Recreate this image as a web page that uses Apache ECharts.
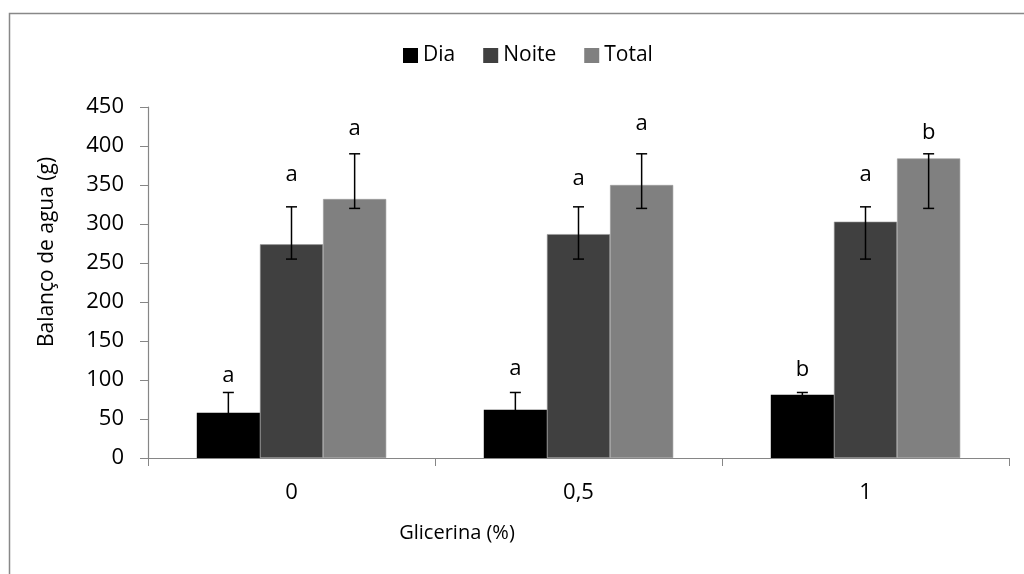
<!DOCTYPE html>
<html>
<head>
<meta charset="utf-8">
<script src="https://cdn.jsdelivr.net/npm/echarts@6/dist/echarts.min.js"></script>
<style>
  html, body { margin: 0; padding: 0; background: #ffffff; }
  #chart { width: 1024px; height: 574px; }
</style>
</head>
<body>
<div id="chart"></div>
<script>
// categorias do eixo X (glicerina %)
const categories = ['0', '0,5', '1'];
const seriesNames = ['Dia', 'Noite', 'Total'];
const colors = ['#000000', '#404040', '#808080'];

// médias
const dia = [58, 62, 81];
const noite = [274, 287, 303];
const total = [332, 350, 384];

// extremos das barras de erro
const diaErrLow = [32, 40, 79];
const diaErrHigh = [84, 84, 84];
const noiteErrLow = [255, 255, 255];
const noiteErrHigh = [322, 322, 322];
const totalErrLow = [320, 320, 320];
const totalErrHigh = [390, 390, 390];

// letras de significância e a altura (valor) onde ficam
const diaLetters = ['a', 'a', 'b'];
const noiteLetters = ['a', 'a', 'a'];
const totalLetters = ['a', 'a', 'b'];
const diaLetterY = [106, 115, 113];
const noiteLetterY = [363, 358, 363];
const totalLetterY = [422, 429, 417];

const FONT = 'Open Sans';
const groupFrac = 0.66;

function errorSeries(pos, lows, highs, letterY, letters) {
  return {
    type: 'custom',
    z: 10,
    silent: true,
    encode: { x: 0, y: [1, 2, 3] },
    data: categories.map((c, i) => [i, lows[i], highs[i], letterY[i]]),
    renderItem: function (params, api) {
      const i = api.value(0);
      const bw = api.size([1, 0])[0] * groupFrac / 3;
      const dx = (pos - 1) * bw;
      const hi = api.coord([i, api.value(2)]);
      const lo = api.coord([i, api.value(1)]);
      const lab = api.coord([i, api.value(3)]);
      const x = hi[0] + dx;
      const half = 5.5;
      const st = { stroke: '#000', lineWidth: 1.5 };
      return {
        type: 'group',
        children: [
          { type: 'line', shape: { x1: x, y1: hi[1], x2: x, y2: lo[1] }, style: st },
          { type: 'line', shape: { x1: x - half, y1: hi[1], x2: x + half, y2: hi[1] }, style: st },
          { type: 'line', shape: { x1: x - half, y1: lo[1], x2: x + half, y2: lo[1] }, style: st },
          {
            type: 'text',
            style: {
              x: x, y: lab[1],
              text: letters[params.dataIndex],
              fill: '#000',
              fontFamily: FONT,
              fontSize: 22,
              align: 'center',
              verticalAlign: 'middle'
            }
          }
        ]
      };
    }
  };
}

const chart = echarts.init(document.getElementById('chart'), null, { renderer: 'canvas' });

const barValues = [dia, noite, total];

const option = {
  backgroundColor: '#ffffff',
  animation: false,
  textStyle: { fontFamily: FONT, color: '#000' },
  legend: {
    data: seriesNames,
    left: 398,
    top: 40,
    itemWidth: 15,
    itemHeight: 15,
    itemGap: 28,
    icon: 'rect',
    itemStyle: { borderWidth: 0 },
    textStyle: { fontFamily: FONT, fontSize: 21, color: '#000' }
  },
  grid: { left: 148, right: 15, top: 107, bottom: 116, containLabel: false },
  xAxis: {
    type: 'category',
    data: categories,
    axisLine: { lineStyle: { color: '#868686', width: 1.2 } },
    axisTick: { show: true, length: 8, lineStyle: { color: '#868686' } },
    axisLabel: { fontFamily: FONT, fontSize: 22, color: '#000', margin: 24 }
  },
  yAxis: {
    type: 'value',
    min: 0,
    max: 450,
    interval: 50,
    splitLine: { show: false },
    axisLine: { show: true, lineStyle: { color: '#868686', width: 1.2 } },
    axisTick: { show: true, length: 8, lineStyle: { color: '#868686' } },
    axisLabel: { fontFamily: FONT, fontSize: 22, color: '#000', margin: 24 }
  },
  graphic: [
    {
      type: 'rect',
      silent: true,
      shape: { x: 9.5, y: 13.5, width: 1200, height: 800 },
      style: { fill: 'none', stroke: '#888888', lineWidth: 1.5 }
    },
    {
      type: 'text',
      x: 47, y: 252,
      rotation: Math.PI / 2,
      style: {
        text: 'Balanço de agua (g)',
        fontFamily: FONT,
        fontSize: 21,
        fill: '#000',
        align: 'center',
        verticalAlign: 'middle'
      }
    },
    {
      type: 'text',
      x: 457, y: 533,
      style: {
        text: 'Glicerina (%)',
        fontFamily: FONT,
        fontSize: 20,
        fill: '#000',
        align: 'center',
        verticalAlign: 'middle'
      }
    }
  ],
  series: seriesNames.map((name, k) => ({
    name: name,
    type: 'bar',
    data: barValues[k],
    barGap: '0%',
    barCategoryGap: '34%',
    itemStyle: { color: colors[k], borderColor: k === 0 ? '#000' : '#9a9a9a', borderWidth: k === 0 ? 0 : 0.6 }
  })).concat([
    errorSeries(0, diaErrLow, diaErrHigh, diaLetterY, diaLetters),
    errorSeries(1, noiteErrLow, noiteErrHigh, noiteLetterY, noiteLetters),
    errorSeries(2, totalErrLow, totalErrHigh, totalLetterY, totalLetters)
  ])
};

chart.setOption(option);
</script>
</body>
</html>
